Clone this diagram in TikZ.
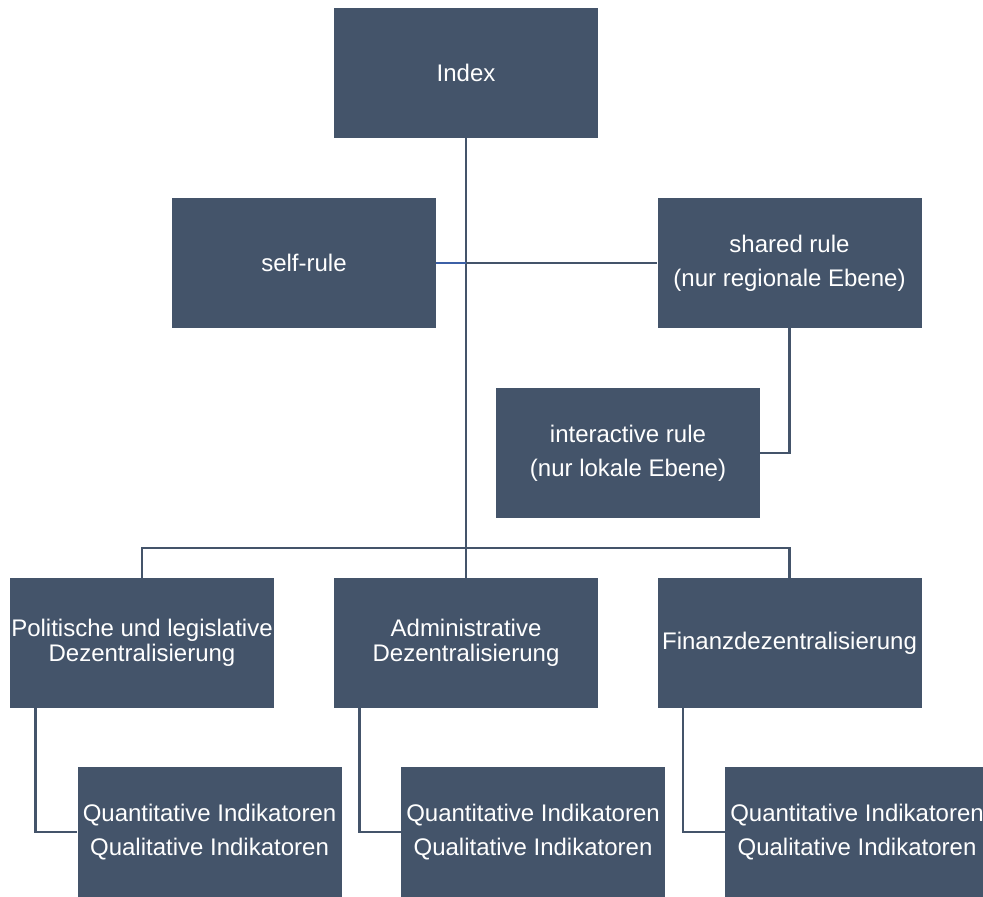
\documentclass[tikz,border=0pt]{standalone}
\usepackage{fontspec}
\setmainfont{Liberation Sans}
\usepackage{tikz}
\usetikzlibrary{positioning}
\usepackage{xcolor}
\definecolor{boxblue}{RGB}{68,84,106}
\definecolor{linkblue}{RGB}{60,96,166}

\begin{document}
\begin{tikzpicture}[
    x=0.5pt, y=-0.5pt,
    every node/.style={font=\fontsize{12}{17}\selectfont},
    block/.style={rectangle, fill=boxblue, text=white, inner sep=0pt,
                  minimum width=132pt, minimum height=65pt, align=center},
    tight/.style={block, font=\fontsize{12}{12.5}\selectfont},
    link/.style={draw=boxblue, line width=1.3pt},
    bluelink/.style={draw=linkblue, line width=1.3pt}
]
\useasboundingbox (0,0) rectangle (983,897);

% Index
\node[block] (index) at (466,73) {Index};

% Dimensionen
\node[block] (self)   at (304,263)   {self-rule};
\node[block] (shared) at (789.5,263) {shared rule\\(nur regionale Ebene)};
\node[block] (inter)  at (628,453)   {interactive rule\\(nur lokale Ebene)};

% Dezentralisierung
\node[tight] (pol) at (142,643)   {Politische und legislative\\Dezentralisierung};
\node[tight] (adm) at (466,643)   {Administrative\\Dezentralisierung};
\node[block] (fin) at (789.5,643) {Finanzdezentralisierung};

% Indikatoren
\node[block] (q1) at (209.5,832) {Quantitative Indikatoren\\Qualitative Indikatoren};
\node[block] (q2) at (533,832)   {Quantitative Indikatoren\\Qualitative Indikatoren};
\node[block] (q3) at (857,832)   {Quantitative Indikatoren\\Qualitative Indikatoren};

% Hauptlinie
\draw[link] (index.south) -- (adm.north);
\draw[bluelink] (self.east) -- (self.east -| index.south);
\draw[link] (self.east -| index.south) -- (shared.west);
\draw[link] (shared.south) |- (inter.east);

% Verteiler
\coordinate (bus) at (466,548);
\draw[link] (pol.north) |- (bus) -| (fin.north);

% Indikatoren-Verbindungen
\draw[link] ([xshift=13pt]pol.south west) |- (q1.west);
\draw[link] ([xshift=13pt]adm.south west) |- (q2.west);
\draw[link] ([xshift=13pt]fin.south west) |- (q3.west);

\end{tikzpicture}
\end{document}
